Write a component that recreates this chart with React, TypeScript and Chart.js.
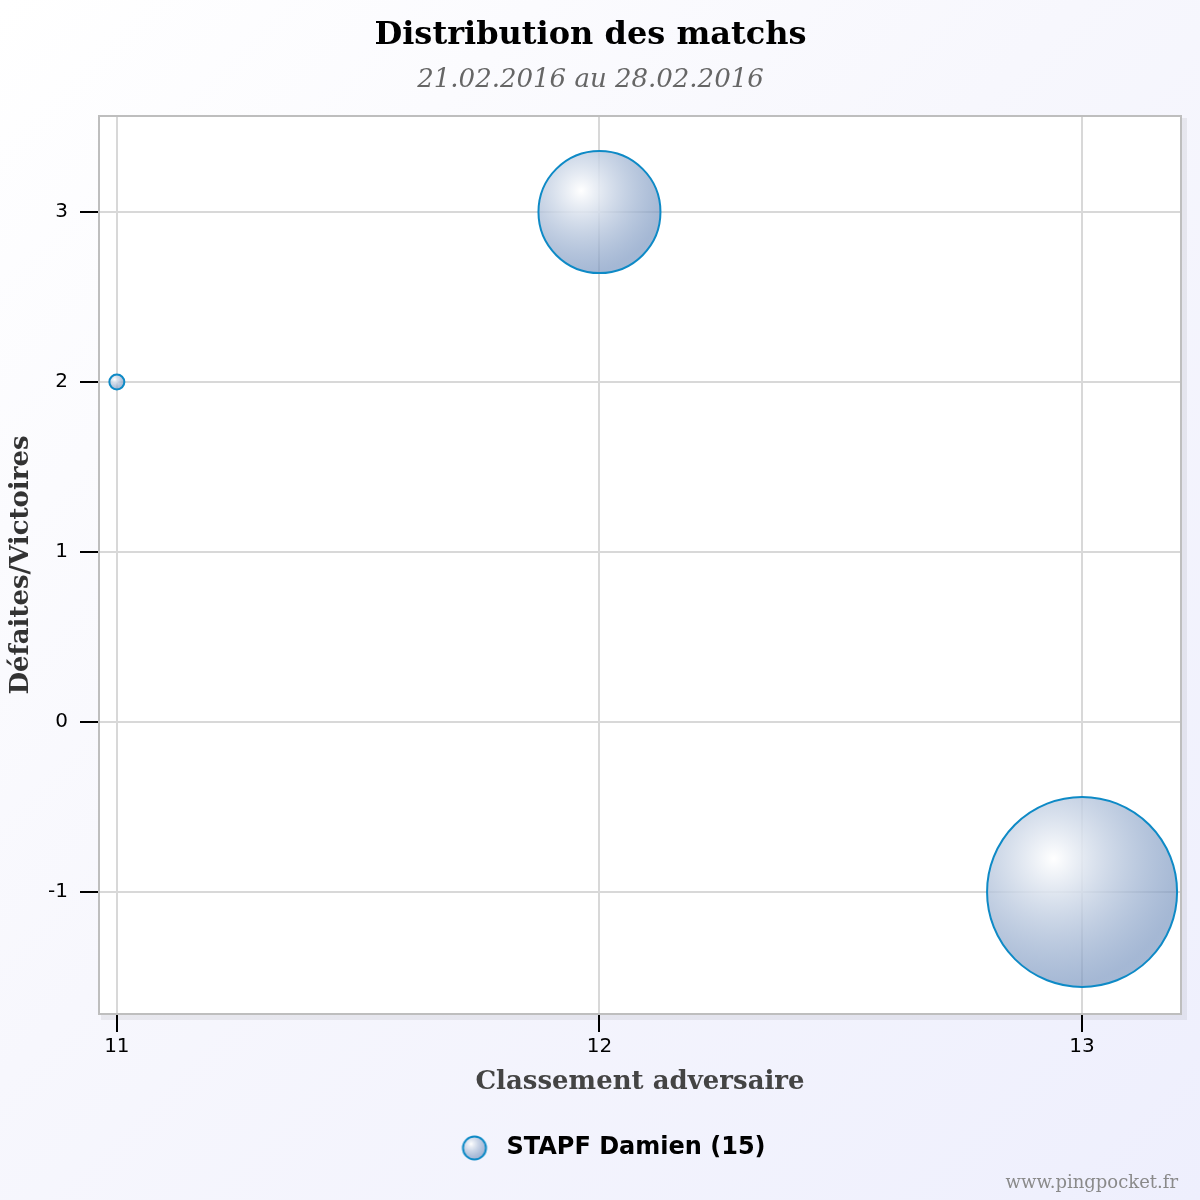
import React, { useEffect, useRef } from 'react';
import Chart from 'chart.js/auto';

const titleText = 'Distribution des matchs';
const subtitleText = '21.02.2016 au 28.02.2016';
const seriesLabel = 'STAPF Damien (15)';
const xTitle = 'Classement adversaire';
const yTitle = 'Défaites/Victoires';
const watermark = 'www.pingpocket.fr';

// classement adversaire, solde défaites/victoires, taille de la bulle
const rankings = [11, 12, 13];
const balances = [2, 3, -1];
const bubbleSizes = [7.5, 61, 95];

const serif = "'DejaVu Serif', serif";
const sans = "'DejaVu Sans', sans-serif";

const bubbleGradient = (ctx: CanvasRenderingContext2D, cx: number, cy: number, r: number) => {
  const gx = cx - r * 0.3;
  const gy = cy - r * 0.35;
  const g = ctx.createRadialGradient(gx, gy, 0, gx, gy, r * 1.35);
  g.addColorStop(0, 'rgba(255,255,255,0.95)');
  g.addColorStop(1, 'rgba(122,150,192,0.68)');
  return g;
};

const makeLegendIcon = () => {
  const c = document.createElement('canvas');
  c.width = 28;
  c.height = 28;
  const ctx = c.getContext('2d')!;
  ctx.beginPath();
  ctx.arc(14, 14, 11.5, 0, Math.PI * 2);
  ctx.fillStyle = bubbleGradient(ctx, 14, 14, 11.5);
  ctx.fill();
  ctx.lineWidth = 2;
  ctx.strokeStyle = '#0e8ac6';
  ctx.stroke();
  return c;
};

const plotFrame = {
  id: 'plotFrame',
  afterLayout(chart: any) {
    // legend item sits a bit right of the page centre
    if (chart.legend) chart.legend.left = 39;
  },
  beforeDraw(chart: any) {
    const { ctx, chartArea: a } = chart;
    ctx.save();
    ctx.fillStyle = 'rgba(0,0,0,0.06)';
    ctx.fillRect(a.left + 2, a.top + 2, a.right - a.left + 4, a.bottom - a.top + 4);
    ctx.fillStyle = '#ffffff';
    ctx.fillRect(a.left, a.top, a.right - a.left, a.bottom - a.top);
    ctx.restore();
  },
  afterDatasetsDraw(chart: any) {
    const { ctx, chartArea: a } = chart;
    ctx.save();
    ctx.strokeStyle = '#bebebe';
    ctx.lineWidth = 2;
    ctx.strokeRect(a.left, a.top, a.right - a.left, a.bottom - a.top);
    ctx.restore();
  },
  afterDraw(chart: any) {
    const { ctx } = chart;
    ctx.save();
    ctx.font = `18px ${serif}`;
    ctx.fillStyle = '#8a8a8a';
    ctx.textAlign = 'right';
    ctx.textBaseline = 'middle';
    ctx.fillText(watermark, 1178, 1183);
    ctx.restore();
  },
};

const App: React.FC = () => {
  const canvasRef = useRef<HTMLCanvasElement>(null);
  const chartRef = useRef<any>(null);

  useEffect(() => {
    document.body.style.margin = '0';
    if (!canvasRef.current) return;
    const icon = makeLegendIcon();

    chartRef.current = new Chart(canvasRef.current, {
      type: 'bubble',
      data: {
        datasets: [{
          label: seriesLabel,
          data: rankings.map((x, i) => ({ x, y: balances[i], r: bubbleSizes[i] })),
          backgroundColor: (c: any) => {
            const raw = c.raw;
            const chart = c.chart;
            const fallback = 'rgba(180,195,220,0.7)';
            if (!raw || !chart.scales || !chart.scales.x || !chart.scales.y) return fallback;
            const cx = chart.scales.x.getPixelForValue(raw.x);
            const cy = chart.scales.y.getPixelForValue(raw.y);
            if (!isFinite(cx) || !isFinite(cy)) return fallback;
            return bubbleGradient(chart.ctx, cx, cy, raw.r);
          },
          borderColor: '#0e8ac6',
          borderWidth: 2,
          hoverBorderWidth: 2,
        }],
      },
      options: {
        animation: false,
        responsive: false,
        devicePixelRatio: 1,
        layout: { autoPadding: false, padding: { left: 0, right: 19, top: 0, bottom: 30 } },
        plugins: {
          title: {
            display: true,
            text: titleText,
            color: '#000',
            font: { family: serif, size: 32, weight: 'bold' },
            padding: { top: 16.8, bottom: 0 },
          },
          subtitle: {
            display: true,
            text: subtitleText,
            color: '#666',
            font: { family: serif, size: 26, style: 'italic' },
            padding: { top: 9.2, bottom: 20.4 },
          },
          legend: {
            position: 'bottom',
            labels: {
              usePointStyle: true,
              pointStyleWidth: 40,
              color: '#000',
              font: { family: sans, size: 24, weight: 'bold' },
              padding: 28,
              generateLabels: () => [{
                text: seriesLabel,
                pointStyle: icon,
                datasetIndex: 0,
                hidden: false,
                fontColor: '#000',
              }],
            },
          },
          tooltip: { enabled: false },
        },
        scales: {
          x: {
            type: 'linear',
            min: 10.963,
            max: 13.205,
            afterFit: (s: any) => { s.height = 94; s.paddingLeft = 0; s.paddingRight = 0; },
            ticks: {
              stepSize: 1,
              includeBounds: false,
              color: '#000',
              font: { family: sans, size: 20 },
              padding: 3,
            },
            grid: {
              color: '#d8d8d8',
              lineWidth: 2,
              tickColor: '#000',
              tickWidth: 2,
              tickLength: 18,
            },
            border: { display: false },
            title: {
              display: true,
              text: xTitle,
              color: '#444',
              font: { family: serif, size: 26, weight: 'bold' },
              padding: { top: 0, bottom: 10.4 },
            },
          },
          y: {
            type: 'linear',
            min: -1.718,
            max: 3.565,
            afterFit: (s: any) => { s.width = 99; s.paddingTop = 0; s.paddingBottom = 0; },
            ticks: {
              stepSize: 1,
              includeBounds: false,
              color: '#000',
              font: { family: sans, size: 20 },
              padding: 12,
            },
            grid: {
              color: '#d8d8d8',
              lineWidth: 2,
              tickColor: '#000',
              tickWidth: 2,
              tickLength: 19,
            },
            border: { display: false },
            title: {
              display: true,
              text: yTitle,
              color: '#333',
              font: { family: serif, size: 26, weight: 'bold' },
              padding: { top: 5.6, bottom: 0 },
            },
          },
        },
      },
      plugins: [plotFrame],
    } as any);

    return () => {
      chartRef.current && chartRef.current.destroy();
    };
  }, []);

  return (
    <div style={{ width: 1200, height: 1200, background: 'linear-gradient(135deg, #ffffff 0%, #f7f7fd 45%, #eeeffd 100%)' }}>
      <canvas ref={canvasRef} width={1200} height={1200} style={{ display: 'block' }}></canvas>
    </div>
  );
};

export default App;
